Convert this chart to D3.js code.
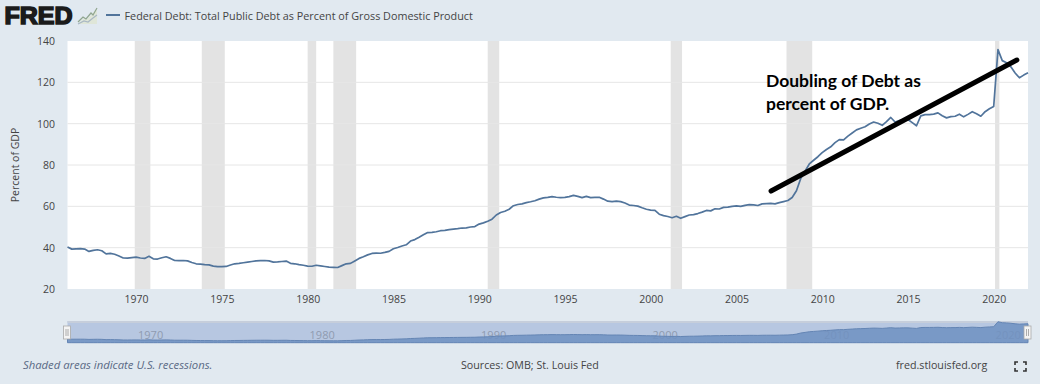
<!DOCTYPE html>
<html>
<head>
<meta charset="utf-8">
<script src="https://cdn.jsdelivr.net/npm/d3@7"></script>
<style>
html, body { margin: 0; padding: 0; background: #e1e9f0; }
svg { display: block; }
text { font-family: "Open Sans", sans-serif; }
.axis path, .axis line { display: none; }
.axis text { font-size: 10.5px; fill: #444; font-family: "Open Sans", sans-serif; }
.nav-axis text { font-size: 11px; fill: #8f9bb0; }
</style>
</head>
<body>
<div id="chart"></div>
<script>
const WIDTH = 1040;
const HEIGHT = 384;

const SERIES_NAME = 'Federal Debt: Total Public Debt as Percent of Gross Domestic Product';
const START_YEAR = 1966;

// one row per year, four quarters
const debtValues = [
    40.3, 39.3, 39.4, 39.5,
    39.3, 38.2, 38.7, 39.0,
    38.5, 37.0, 37.2, 36.8,
    36.0, 35.0, 34.9, 35.2,
    35.4, 35.0, 34.8, 35.8,
    34.6, 34.5, 35.1, 35.6,
    34.8, 33.8, 33.7, 33.8,
    33.6, 32.8, 32.2, 32.0,
    31.8, 31.7, 31.1, 30.8,
    30.8, 30.9, 31.6, 32.2,
    32.4, 32.7, 33.0, 33.3,
    33.6, 33.7, 33.8, 33.6,
    33.0, 33.1, 33.3, 33.5,
    32.4, 32.2, 31.8, 31.5,
    31.1, 31.0, 31.5, 31.2,
    30.9, 30.6, 30.5, 30.4,
    31.3, 32.2, 32.4, 33.6,
    34.8, 35.6, 36.5, 37.2,
    37.4, 37.3, 37.7, 38.2,
    39.5, 40.1, 40.8, 41.4,
    43.2, 43.9, 45.0, 46.2,
    47.3, 47.4, 47.7, 48.2,
    48.4, 48.7, 49.0, 49.2,
    49.5, 49.6, 50.0, 50.2,
    51.4, 52.0, 52.8, 53.8,
    55.8, 57.0, 57.6, 58.6,
    60.3, 60.9, 61.2, 61.8,
    62.2, 62.7, 63.5, 64.1,
    64.3, 64.7, 64.4, 64.2,
    64.3, 64.7, 65.3, 64.8,
    64.2, 64.8, 64.2, 64.3,
    64.4, 63.5, 62.5, 62.3,
    62.5, 62.3, 61.6, 60.6,
    60.4, 60.1, 59.3, 58.6,
    58.2, 58.0, 56.2, 55.5,
    55.1, 54.5, 55.2, 54.2,
    55.0, 55.8, 56.0, 56.5,
    57.2, 58.0, 57.8, 58.8,
    58.7, 59.5, 59.6, 60.0,
    60.2, 60.0, 60.5, 60.8,
    60.7, 60.4, 61.2, 61.3,
    61.4, 61.2, 61.8, 62.3,
    62.8, 64.3, 67.5, 73.5,
    77.0, 80.5, 82.3, 84.0,
    86.0, 87.5, 88.8, 90.8,
    92.3, 92.2, 94.0, 95.5,
    97.0, 97.8, 98.5, 99.8,
    100.8, 100.2, 99.2, 101.0,
    103.0, 100.8, 101.5, 102.0,
    102.0, 100.5, 99.0, 103.8,
    104.4, 104.4, 104.6, 105.2,
    103.8, 102.8, 103.4, 103.6,
    104.6, 103.3, 104.5, 105.8,
    104.8, 103.6, 105.8, 107.2,
    108.3, 135.8, 130.5, 129.5,
    127.5, 124.5, 122.2, 123.5,
    124.6
];

const recessionStarts = [1969.92, 1973.83, 1980.0, 1981.5, 1990.5, 2001.17, 2007.92, 2020.08];
const recessionEnds = [1970.83, 1975.17, 1980.5, 1982.83, 1991.17, 2001.83, 2009.42, 2020.33];

const xTicks = [1970, 1975, 1980, 1985, 1990, 1995, 2000, 2005, 2010, 2015, 2020];
const yTicks = [20, 40, 60, 80, 100, 120, 140];
const navTicks = [1970, 1980, 1990, 2000, 2010, 2020];

const trendYears = [2007.02, 2021.35];
const trendValues = [67.4, 130.8];
const noteLines = ['Doubling of Debt as', 'percent of GDP.'];

const debtPoints = debtValues.map((v, i) => ({year: START_YEAR + i / 4, value: v}));

let xScale = d3.scaleLinear().domain([1966, 2022]).range([67.5, 1028]);
let yScale = d3.scaleLinear().domain([20, 140]).range([289, 41]);
let navY = d3.scaleLinear().domain([20, 140]).range([342.7, 321]);

let svg = d3.select('#chart').append('svg')
    .attr('width', WIDTH)
    .attr('height', HEIGHT);

// header
svg.append('text')
    .attr('x', 4.5).attr('y', 24)
    .attr('textLength', 68)
    .attr('lengthAdjust', 'spacingAndGlyphs')
    .style('font-family', '"Liberation Sans", sans-serif')
    .style('font-weight', 700)
    .style('font-size', '24px')
    .attr('fill', '#1b1b1b')
    .attr('stroke', '#1b1b1b')
    .attr('stroke-width', 1.6)
    .text('FRED');

let logoLine = d3.line().x(d => d[0]).y(d => d[1]);
svg.append('path')
    .attr('d', 'M78,24L84,18L87,19L92,14L97,8V24Z')
    .attr('fill', '#dfe6d8');
svg.append('path')
    .attr('d', logoLine([[78, 22], [83, 17], [86, 19], [91, 13], [93, 15], [97, 8]]))
    .attr('fill', 'none').attr('stroke', '#8fa58f').attr('stroke-width', 1.2);
svg.append('path')
    .attr('d', logoLine([[78, 24], [84, 21], [88, 22], [93, 18], [97, 15]]))
    .attr('fill', 'none').attr('stroke', '#a9b8c4').attr('stroke-width', 1.2);

svg.append('line')
    .attr('x1', 106).attr('x2', 120)
    .attr('y1', 15).attr('y2', 15)
    .attr('stroke', '#51749b').attr('stroke-width', 2);
svg.append('text')
    .attr('x', 124.5).attr('y', 20)
    .style('font-size', '10.8px')
    .attr('fill', '#444')
    .text(SERIES_NAME);

// plot area
svg.append('rect')
    .attr('x', xScale.range()[0]).attr('y', yScale(140))
    .attr('width', xScale.range()[1] - xScale.range()[0])
    .attr('height', yScale(20) - yScale(140))
    .attr('fill', '#fff');

svg.append('g').selectAll('rect')
    .data(recessionStarts)
    .enter().append('rect')
    .attr('x', d => xScale(d))
    .attr('y', yScale(140))
    .attr('width', (d, i) => xScale(recessionEnds[i]) - xScale(d))
    .attr('height', yScale(20) - yScale(140))
    .attr('fill', '#e3e3e3');

svg.append('g').selectAll('line')
    .data(yTicks.slice(1, -1))
    .enter().append('line')
    .attr('x1', xScale.range()[0]).attr('x2', xScale.range()[1])
    .attr('y1', d => yScale(d)).attr('y2', d => yScale(d))
    .attr('stroke', '#e6e6e6').attr('stroke-width', 1);

svg.append('g')
    .attr('class', 'axis')
    .attr('transform', 'translate(0, 289)')
    .call(d3.axisBottom(xScale).tickValues(xTicks).tickFormat(d3.format('d')).tickSize(0).tickPadding(7));

svg.append('g')
    .attr('class', 'axis')
    .attr('transform', 'translate(67, 0)')
    .call(d3.axisLeft(yScale).tickValues(yTicks).tickSize(0).tickPadding(12));

svg.append('text')
    .attr('transform', 'translate(19, 165) rotate(-90)')
    .attr('text-anchor', 'middle')
    .style('font-size', '10.5px')
    .attr('fill', '#444')
    .text('Percent of GDP');

let debtLine = d3.line()
    .x(d => xScale(d.year))
    .y(d => yScale(d.value));

svg.append('path')
    .attr('d', debtLine(debtPoints))
    .attr('fill', 'none')
    .attr('stroke', '#51749b')
    .attr('stroke-width', 1.7)
    .attr('stroke-linejoin', 'round');

// hand drawn annotation
svg.append('line')
    .attr('x1', xScale(trendYears[0])).attr('y1', yScale(trendValues[0]))
    .attr('x2', xScale(trendYears[1])).attr('y2', yScale(trendValues[1]))
    .attr('stroke', '#000').attr('stroke-width', 5).attr('stroke-linecap', 'round');

svg.append('g').selectAll('text')
    .data(noteLines)
    .enter().append('text')
    .attr('x', 766)
    .attr('y', (d, i) => 86.5 + i * 23)
    .style('font-family', 'Lato, sans-serif')
    .style('font-weight', 700)
    .style('font-size', '17.5px')
    .attr('fill', '#000')
    .text(d => d);

// navigator
svg.append('rect')
    .attr('x', 67.5).attr('y', 321)
    .attr('width', 960.5).attr('height', 21.7)
    .attr('fill', '#b7c7e1');
svg.append('rect')
    .attr('x', 67.5).attr('y', 321)
    .attr('width', 960.5).attr('height', 2)
    .attr('fill', '#c6cedb');

svg.append('g')
    .attr('class', 'axis nav-axis')
    .attr('transform', 'translate(14, 331)')
    .call(d3.axisBottom(xScale).tickValues(navTicks).tickFormat(d3.format('d')).tickSize(0).tickPadding(0));

let navArea = d3.area()
    .x(d => xScale(d.year))
    .y0(navY(20))
    .y1(d => navY(d.value));

svg.append('path')
    .attr('d', navArea(debtPoints))
    .attr('fill', '#6f90c1')
    .attr('fill-opacity', 0.85)
    .attr('stroke', '#6485b4')
    .attr('stroke-width', 1);

svg.append('g').selectAll('g')
    .data([67.5, 1028])
    .enter().append('g')
    .each(function (x) {
        let h = d3.select(this);
        h.append('rect')
            .attr('x', x - 4).attr('y', 326)
            .attr('width', 7).attr('height', 13)
            .attr('fill', '#f4f4f4').attr('stroke', '#aaa').attr('stroke-width', 0.8);
        h.selectAll('line').data([-1.5, 0.5]).enter().append('line')
            .attr('x1', d => x + d).attr('x2', d => x + d)
            .attr('y1', 329).attr('y2', 336)
            .attr('stroke', '#999').attr('stroke-width', 0.8);
    });

// footer
svg.append('text')
    .attr('x', 23).attr('y', 369)
    .style('font-size', '11.3px').style('font-style', 'italic')
    .attr('fill', '#5a6a85')
    .text('Shaded areas indicate U.S. recessions.');
svg.append('text')
    .attr('x', 461).attr('y', 369)
    .style('font-size', '10.7px')
    .attr('fill', '#444')
    .text('Sources: OMB; St. Louis Fed');
svg.append('text')
    .attr('x', 896).attr('y', 369)
    .style('font-size', '10.7px')
    .attr('fill', '#444')
    .text('fred.stlouisfed.org');

// fullscreen icon, four corners
let corners = [[1015, 362, 1, 1], [1026, 362, -1, 1], [1015, 371, 1, -1], [1026, 371, -1, -1]];
svg.append('g').selectAll('path')
    .data(corners)
    .enter().append('path')
    .attr('d', d => `M${d[0]},${d[1] + 3 * d[3]}V${d[1]}H${d[0] + 3 * d[2]}`)
    .attr('fill', 'none').attr('stroke', '#333').attr('stroke-width', 1.6);
</script>
</body>
</html>
